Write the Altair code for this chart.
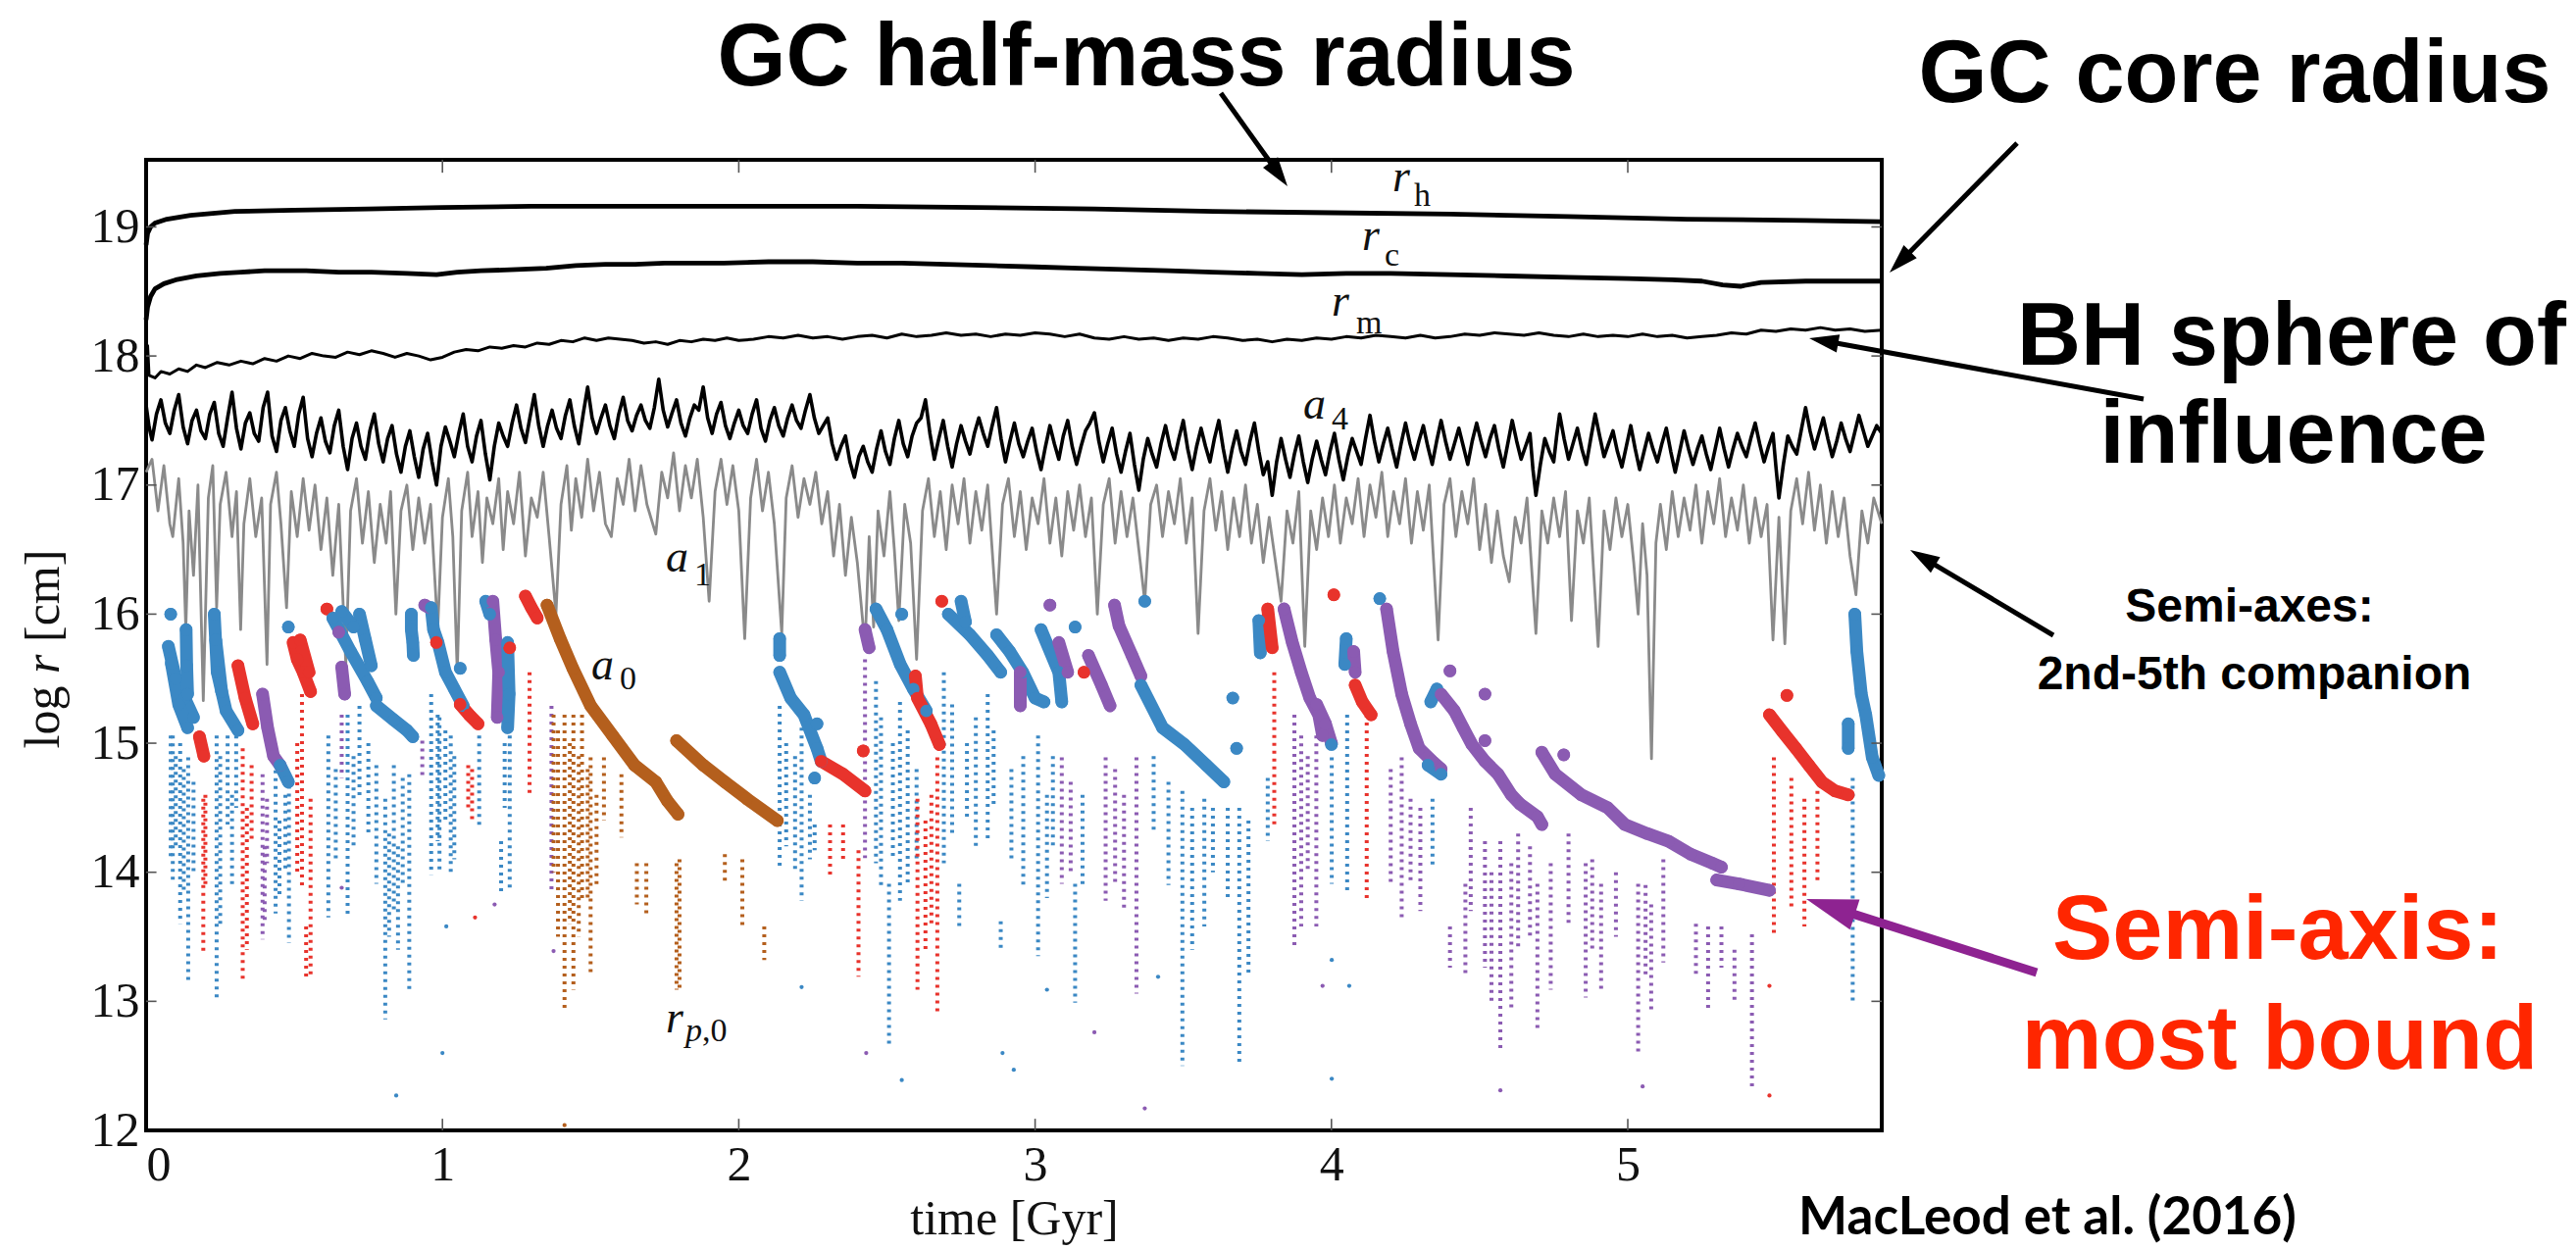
import math
import altair as alt
import pandas as pd

# ---------------- geometry of the page (pixels) ----------------
PLOT_LEFT, PLOT_TOP, PLOT_W, PLOT_H = 149, 163, 1770, 990
PAGE_W, PAGE_H = 2627, 1275
T_MAX = 5.857
V_MIN, V_MAX = 12.0, 19.52

# ---------------- data ----------------
X_TICKS = [0, 1, 2, 3, 4, 5]
Y_TICKS = [12, 13, 14, 15, 16, 17, 18, 19]

RH = [(0.000, 18.86), (0.005, 18.95), (0.015, 19.00), (0.03, 19.03), (0.07, 19.06), (0.15, 19.09),
      (0.30, 19.12), (0.50, 19.13), (0.75, 19.14), (1.00, 19.15), (1.30, 19.16), (1.60, 19.16),
      (2.00, 19.16), (2.40, 19.16), (2.80, 19.15), (3.20, 19.14), (3.60, 19.12), (4.00, 19.11),
      (4.40, 19.10), (4.80, 19.08), (5.20, 19.06), (5.60, 19.05), (5.857, 19.04)]

RC = [(0.000, 18.28), (0.005, 18.38), (0.015, 18.46), (0.03, 18.52), (0.06, 18.56), (0.10, 18.59),
      (0.17, 18.62), (0.25, 18.64), (0.32, 18.65), (0.40, 18.66), (0.54, 18.66), (0.65, 18.65),
      (0.76, 18.65), (0.88, 18.64), (0.98, 18.63), (1.05, 18.65), (1.13, 18.66), (1.25, 18.67),
      (1.35, 18.68), (1.45, 18.70), (1.55, 18.71), (1.65, 18.71), (1.75, 18.72), (1.85, 18.72),
      (1.95, 18.72), (2.10, 18.73), (2.25, 18.73), (2.40, 18.72), (2.55, 18.72), (2.70, 18.71),
      (2.85, 18.70), (3.00, 18.69), (3.15, 18.68), (3.30, 18.67), (3.45, 18.66), (3.60, 18.65),
      (3.75, 18.64), (3.90, 18.63), (4.05, 18.64), (4.20, 18.64), (4.40, 18.63), (4.60, 18.62),
      (4.80, 18.61), (5.00, 18.60), (5.15, 18.59), (5.25, 18.58), (5.32, 18.55), (5.38, 18.54),
      (5.45, 18.57), (5.60, 18.58), (5.75, 18.58), (5.857, 18.58)]

RM = [(0.000, 17.80), (0.005, 18.08), (0.01, 17.85), (0.03, 17.83), (0.05, 17.88), (0.08, 17.86),
      (0.11, 17.90), (0.14, 17.88), (0.17, 17.93), (0.20, 17.91), (0.24, 17.95), (0.28, 17.93),
      (0.32, 17.96), (0.36, 17.94), (0.40, 17.98), (0.44, 17.96), (0.48, 18.00), (0.52, 17.98),
      (0.56, 18.02), (0.60, 18.00), (0.64, 17.99), (0.68, 18.03), (0.72, 18.01), (0.76, 18.04),
      (0.80, 18.02), (0.84, 17.99), (0.88, 18.02), (0.92, 18.00), (0.96, 17.97), (1.00, 17.99),
      (1.04, 18.03), (1.08, 18.05), (1.12, 18.04), (1.16, 18.07), (1.20, 18.06), (1.24, 18.08),
      (1.28, 18.07), (1.32, 18.10), (1.36, 18.09), (1.40, 18.12), (1.44, 18.11), (1.48, 18.14),
      (1.52, 18.12), (1.56, 18.14), (1.60, 18.13), (1.64, 18.12), (1.68, 18.10), (1.72, 18.11),
      (1.76, 18.09), (1.80, 18.12), (1.84, 18.11), (1.88, 18.13), (1.92, 18.12), (1.96, 18.14),
      (2.00, 18.12), (2.05, 18.13), (2.10, 18.15), (2.15, 18.14), (2.20, 18.16), (2.25, 18.14),
      (2.30, 18.15), (2.35, 18.13), (2.40, 18.15), (2.45, 18.16), (2.50, 18.14), (2.55, 18.17),
      (2.60, 18.15), (2.65, 18.16), (2.70, 18.18), (2.75, 18.16), (2.80, 18.17), (2.85, 18.15),
      (2.90, 18.17), (2.95, 18.16), (3.00, 18.18), (3.05, 18.17), (3.10, 18.15), (3.15, 18.17),
      (3.20, 18.14), (3.25, 18.13), (3.30, 18.15), (3.35, 18.13), (3.40, 18.14), (3.45, 18.12),
      (3.50, 18.14), (3.55, 18.13), (3.60, 18.15), (3.65, 18.14), (3.70, 18.12), (3.75, 18.13),
      (3.80, 18.11), (3.85, 18.13), (3.90, 18.12), (3.95, 18.14), (4.00, 18.13), (4.05, 18.15),
      (4.10, 18.14), (4.15, 18.16), (4.20, 18.15), (4.25, 18.14), (4.30, 18.16), (4.35, 18.14),
      (4.40, 18.15), (4.45, 18.17), (4.50, 18.16), (4.55, 18.18), (4.60, 18.17), (4.65, 18.16),
      (4.70, 18.18), (4.75, 18.16), (4.80, 18.15), (4.85, 18.17), (4.90, 18.15), (4.95, 18.16),
      (5.00, 18.15), (5.05, 18.17), (5.10, 18.15), (5.15, 18.16), (5.20, 18.14), (5.25, 18.15),
      (5.30, 18.16), (5.35, 18.18), (5.40, 18.17), (5.45, 18.20), (5.50, 18.19), (5.55, 18.21),
      (5.60, 18.20), (5.65, 18.22), (5.70, 18.20), (5.75, 18.21), (5.80, 18.19), (5.857, 18.20)]

A4 = [(0.00, 17.62), (0.01, 17.45), (0.02, 17.35), (0.035, 17.55), (0.05, 17.66), (0.065, 17.48), (0.08, 17.40),
      (0.095, 17.58), (0.11, 17.70), (0.125, 17.45), (0.14, 17.32), (0.155, 17.50), (0.17, 17.58),
      (0.185, 17.42), (0.20, 17.36), (0.215, 17.55), (0.23, 17.64), (0.245, 17.40), (0.26, 17.30),
      (0.275, 17.52), (0.29, 17.72), (0.305, 17.44), (0.32, 17.28), (0.335, 17.48), (0.35, 17.56),
      (0.365, 17.40), (0.38, 17.34), (0.395, 17.60), (0.41, 17.72), (0.425, 17.38), (0.44, 17.26),
      (0.455, 17.50), (0.47, 17.60), (0.485, 17.42), (0.50, 17.30), (0.515, 17.55), (0.53, 17.68),
      (0.545, 17.36), (0.56, 17.22), (0.575, 17.40), (0.59, 17.52), (0.605, 17.34), (0.62, 17.25),
      (0.635, 17.46), (0.65, 17.58), (0.665, 17.30), (0.68, 17.12), (0.695, 17.36), (0.71, 17.48),
      (0.725, 17.30), (0.74, 17.20), (0.755, 17.42), (0.77, 17.55), (0.785, 17.32), (0.80, 17.18),
      (0.815, 17.36), (0.83, 17.46), (0.845, 17.24), (0.86, 17.10), (0.875, 17.30), (0.89, 17.42),
      (0.905, 17.22), (0.92, 17.06), (0.935, 17.28), (0.95, 17.40), (0.965, 17.18), (0.98, 17.00),
      (0.995, 17.30), (1.01, 17.45), (1.025, 17.34), (1.04, 17.22), (1.055, 17.40), (1.07, 17.55),
      (1.085, 17.30), (1.10, 17.18), (1.115, 17.38), (1.13, 17.50), (1.145, 17.24), (1.16, 17.04),
      (1.175, 17.30), (1.19, 17.48), (1.205, 17.38), (1.22, 17.30), (1.235, 17.48), (1.25, 17.62),
      (1.265, 17.44), (1.28, 17.33), (1.295, 17.52), (1.31, 17.70), (1.325, 17.46), (1.34, 17.30),
      (1.355, 17.46), (1.37, 17.58), (1.385, 17.44), (1.40, 17.36), (1.415, 17.54), (1.43, 17.66),
      (1.445, 17.46), (1.46, 17.32), (1.475, 17.55), (1.49, 17.76), (1.505, 17.52), (1.52, 17.40),
      (1.535, 17.52), (1.55, 17.62), (1.565, 17.46), (1.58, 17.36), (1.595, 17.55), (1.61, 17.68),
      (1.625, 17.50), (1.64, 17.42), (1.655, 17.54), (1.67, 17.62), (1.685, 17.50), (1.70, 17.44),
      (1.715, 17.60), (1.73, 17.82), (1.745, 17.58), (1.76, 17.45), (1.775, 17.56), (1.79, 17.66),
      (1.805, 17.48), (1.82, 17.38), (1.835, 17.52), (1.85, 17.62), (1.865, 17.58), (1.88, 17.76),
      (1.895, 17.52), (1.91, 17.40), (1.925, 17.55), (1.94, 17.64), (1.955, 17.46), (1.97, 17.36),
      (1.985, 17.48), (2.00, 17.58), (2.015, 17.46), (2.03, 17.40), (2.045, 17.55), (2.06, 17.66),
      (2.075, 17.44), (2.09, 17.34), (2.105, 17.50), (2.12, 17.60), (2.135, 17.46), (2.15, 17.38),
      (2.165, 17.52), (2.18, 17.62), (2.195, 17.50), (2.21, 17.44), (2.225, 17.58), (2.24, 17.70),
      (2.255, 17.52), (2.27, 17.40), (2.285, 17.46), (2.30, 17.52), (2.315, 17.32), (2.33, 17.20),
      (2.345, 17.30), (2.36, 17.38), (2.375, 17.18), (2.39, 17.06), (2.405, 17.22), (2.42, 17.30),
      (2.435, 17.18), (2.45, 17.10), (2.465, 17.28), (2.48, 17.42), (2.495, 17.26), (2.51, 17.16),
      (2.525, 17.36), (2.54, 17.50), (2.555, 17.32), (2.57, 17.22), (2.585, 17.38), (2.60, 17.48),
      (2.615, 17.52), (2.63, 17.66), (2.645, 17.40), (2.66, 17.20), (2.675, 17.36), (2.69, 17.50),
      (2.705, 17.30), (2.72, 17.14), (2.735, 17.32), (2.75, 17.46), (2.765, 17.34), (2.78, 17.24),
      (2.795, 17.40), (2.81, 17.52), (2.825, 17.40), (2.84, 17.30), (2.855, 17.46), (2.87, 17.60),
      (2.885, 17.36), (2.90, 17.18), (2.915, 17.34), (2.93, 17.48), (2.945, 17.32), (2.96, 17.22),
      (2.975, 17.34), (2.99, 17.44), (3.005, 17.26), (3.02, 17.12), (3.035, 17.30), (3.05, 17.46),
      (3.065, 17.32), (3.08, 17.20), (3.095, 17.38), (3.11, 17.50), (3.125, 17.30), (3.14, 17.16),
      (3.155, 17.30), (3.17, 17.42), (3.185, 17.48), (3.20, 17.56), (3.215, 17.34), (3.23, 17.18),
      (3.245, 17.32), (3.26, 17.44), (3.275, 17.24), (3.29, 17.10), (3.305, 17.26), (3.32, 17.40),
      (3.335, 17.16), (3.35, 16.96), (3.365, 17.20), (3.38, 17.36), (3.395, 17.24), (3.41, 17.14),
      (3.425, 17.32), (3.44, 17.46), (3.455, 17.30), (3.47, 17.20), (3.485, 17.36), (3.50, 17.50),
      (3.515, 17.28), (3.53, 17.12), (3.545, 17.30), (3.56, 17.44), (3.575, 17.30), (3.59, 17.18),
      (3.605, 17.36), (3.62, 17.50), (3.635, 17.28), (3.65, 17.10), (3.665, 17.28), (3.68, 17.42),
      (3.695, 17.26), (3.71, 17.16), (3.725, 17.34), (3.74, 17.48), (3.755, 17.26), (3.77, 17.08),
      (3.785, 17.18), (3.80, 16.92), (3.815, 17.18), (3.83, 17.36), (3.845, 17.20), (3.86, 17.06),
      (3.875, 17.24), (3.89, 17.38), (3.905, 17.18), (3.92, 17.02), (3.935, 17.20), (3.95, 17.34),
      (3.965, 17.20), (3.98, 17.08), (3.995, 17.26), (4.01, 17.40), (4.025, 17.20), (4.04, 17.04),
      (4.055, 17.22), (4.07, 17.36), (4.085, 17.26), (4.10, 17.16), (4.115, 17.36), (4.13, 17.54),
      (4.145, 17.34), (4.16, 17.18), (4.175, 17.32), (4.19, 17.44), (4.205, 17.28), (4.22, 17.14),
      (4.235, 17.32), (4.25, 17.48), (4.265, 17.32), (4.28, 17.20), (4.295, 17.34), (4.31, 17.46),
      (4.325, 17.30), (4.34, 17.16), (4.355, 17.34), (4.37, 17.50), (4.385, 17.34), (4.40, 17.20),
      (4.415, 17.32), (4.43, 17.44), (4.445, 17.30), (4.46, 17.16), (4.475, 17.34), (4.49, 17.48),
      (4.505, 17.34), (4.52, 17.22), (4.535, 17.36), (4.55, 17.46), (4.565, 17.28), (4.58, 17.14),
      (4.595, 17.32), (4.61, 17.50), (4.625, 17.34), (4.64, 17.20), (4.655, 17.30), (4.67, 17.40),
      (4.68, 17.12), (4.69, 16.92), (4.705, 17.16), (4.72, 17.36), (4.735, 17.26), (4.75, 17.18),
      (4.76, 17.38), (4.77, 17.55), (4.785, 17.36), (4.80, 17.20), (4.815, 17.32), (4.83, 17.44),
      (4.845, 17.28), (4.86, 17.16), (4.875, 17.36), (4.89, 17.55), (4.905, 17.38), (4.92, 17.22),
      (4.935, 17.32), (4.95, 17.42), (4.965, 17.26), (4.98, 17.14), (4.995, 17.30), (5.01, 17.46),
      (5.025, 17.28), (5.04, 17.12), (5.055, 17.26), (5.07, 17.40), (5.085, 17.28), (5.10, 17.18),
      (5.115, 17.32), (5.13, 17.44), (5.145, 17.26), (5.16, 17.10), (5.175, 17.26), (5.19, 17.42),
      (5.205, 17.28), (5.22, 17.16), (5.235, 17.28), (5.25, 17.38), (5.265, 17.24), (5.28, 17.12),
      (5.295, 17.28), (5.31, 17.44), (5.325, 17.28), (5.34, 17.14), (5.355, 17.28), (5.37, 17.40),
      (5.385, 17.30), (5.40, 17.22), (5.415, 17.36), (5.43, 17.48), (5.445, 17.32), (5.46, 17.18),
      (5.475, 17.30), (5.49, 17.40), (5.50, 17.14), (5.51, 16.90), (5.525, 17.16), (5.54, 17.38),
      (5.555, 17.30), (5.57, 17.24), (5.585, 17.42), (5.60, 17.60), (5.615, 17.42), (5.63, 17.28),
      (5.645, 17.40), (5.66, 17.52), (5.675, 17.36), (5.69, 17.22), (5.705, 17.34), (5.72, 17.48),
      (5.735, 17.36), (5.75, 17.26), (5.765, 17.40), (5.78, 17.54), (5.795, 17.42), (5.81, 17.30),
      (5.825, 17.38), (5.84, 17.46), (5.857, 17.40)]

A1 = [(0.00, 17.10), (0.02, 17.20), (0.04, 16.80), (0.06, 17.15), (0.08, 16.70), (0.09, 16.60),
      (0.11, 17.05), (0.125, 16.55), (0.134, 15.88), (0.145, 16.80), (0.16, 16.30), (0.175, 17.00),
      (0.193, 15.33), (0.21, 16.90), (0.225, 17.15), (0.238, 16.05), (0.25, 16.85), (0.27, 17.10),
      (0.29, 16.60), (0.305, 16.95), (0.319, 15.88), (0.33, 16.70), (0.35, 17.05), (0.37, 16.60),
      (0.39, 16.90), (0.408, 15.61), (0.42, 16.85), (0.44, 17.10), (0.455, 16.70), (0.474, 16.05),
      (0.49, 16.95), (0.51, 16.60), (0.53, 17.05), (0.55, 16.65), (0.57, 17.00), (0.59, 16.50),
      (0.61, 16.90), (0.63, 16.30), (0.65, 16.85), (0.674, 15.61), (0.69, 16.80), (0.71, 17.05),
      (0.73, 16.55), (0.75, 16.95), (0.77, 16.40), (0.79, 16.85), (0.81, 16.55), (0.825, 16.95),
      (0.843, 16.00), (0.86, 16.80), (0.88, 17.00), (0.90, 16.50), (0.92, 16.90), (0.94, 16.55),
      (0.96, 16.85), (0.984, 15.88), (1.00, 16.75), (1.02, 17.05), (1.035, 16.60), (1.05, 15.55),
      (1.065, 16.80), (1.085, 17.10), (1.10, 16.60), (1.12, 16.95), (1.135, 16.40), (1.15, 16.90),
      (1.17, 16.70), (1.19, 17.05), (1.205, 16.50), (1.22, 16.95), (1.24, 16.70), (1.26, 17.10),
      (1.28, 16.45), (1.30, 16.90), (1.32, 16.75), (1.34, 17.10), (1.36, 16.60), (1.383, 16.00),
      (1.40, 16.85), (1.42, 17.15), (1.435, 16.65), (1.45, 17.05), (1.47, 16.75), (1.49, 17.20),
      (1.51, 16.80), (1.53, 17.10), (1.55, 16.70), (1.57, 16.60), (1.59, 17.05), (1.61, 16.85),
      (1.63, 17.20), (1.65, 16.80), (1.67, 17.15), (1.69, 16.85), (1.72, 16.62), (1.74, 17.10),
      (1.76, 16.90), (1.78, 17.25), (1.80, 16.80), (1.82, 17.15), (1.84, 16.90), (1.86, 17.20),
      (1.88, 16.75), (1.90, 16.10), (1.92, 16.95), (1.94, 17.20), (1.96, 16.85), (1.98, 17.15),
      (2.00, 16.80), (2.02, 15.81), (2.04, 16.90), (2.06, 17.20), (2.08, 16.80), (2.10, 17.10),
      (2.12, 16.70), (2.145, 15.85), (2.16, 16.90), (2.18, 17.15), (2.20, 16.75), (2.22, 17.05),
      (2.24, 16.85), (2.26, 17.10), (2.28, 16.70), (2.30, 16.95), (2.32, 16.45), (2.34, 16.85),
      (2.36, 16.30), (2.38, 16.75), (2.40, 16.40), (2.426, 15.75), (2.44, 16.60), (2.455, 15.90),
      (2.47, 16.80), (2.49, 16.45), (2.51, 16.95), (2.525, 16.50), (2.54, 15.95), (2.56, 16.85),
      (2.58, 16.55), (2.60, 15.65), (2.62, 16.80), (2.64, 17.05), (2.66, 16.60), (2.68, 16.95),
      (2.70, 16.50), (2.72, 17.00), (2.74, 16.70), (2.76, 17.05), (2.78, 16.55), (2.80, 16.95),
      (2.82, 16.65), (2.84, 17.00), (2.87, 16.00), (2.89, 16.85), (2.91, 17.05), (2.93, 16.60),
      (2.95, 16.95), (2.97, 16.50), (2.99, 16.90), (3.01, 16.70), (3.03, 17.05), (3.05, 16.55),
      (3.07, 16.90), (3.09, 16.45), (3.11, 16.95), (3.13, 16.65), (3.15, 17.00), (3.17, 16.60),
      (3.19, 16.90), (3.21, 16.00), (3.23, 16.85), (3.25, 17.05), (3.27, 16.55), (3.29, 16.95),
      (3.31, 16.60), (3.33, 16.90), (3.35, 16.50), (3.37, 16.10), (3.39, 16.85), (3.41, 17.00),
      (3.43, 16.60), (3.45, 16.95), (3.47, 16.70), (3.49, 17.05), (3.51, 16.55), (3.53, 16.90),
      (3.55, 15.85), (3.57, 16.80), (3.59, 17.05), (3.61, 16.65), (3.63, 16.95), (3.65, 16.50),
      (3.67, 16.90), (3.69, 16.60), (3.71, 17.00), (3.73, 16.55), (3.75, 16.85), (3.77, 16.40),
      (3.79, 16.75), (3.83, 16.10), (3.85, 16.80), (3.87, 16.55), (3.89, 16.95), (3.91, 15.75),
      (3.93, 16.80), (3.95, 16.50), (3.97, 16.90), (3.99, 16.60), (4.01, 17.00), (4.03, 16.55),
      (4.05, 16.90), (4.07, 16.70), (4.09, 17.05), (4.11, 16.60), (4.13, 17.00), (4.15, 16.75),
      (4.17, 17.10), (4.19, 16.60), (4.21, 16.95), (4.23, 16.70), (4.25, 17.05), (4.27, 16.55),
      (4.29, 16.95), (4.31, 16.65), (4.33, 17.00), (4.36, 15.80), (4.38, 16.85), (4.40, 17.05),
      (4.42, 16.60), (4.44, 16.95), (4.46, 16.70), (4.48, 17.05), (4.50, 16.50), (4.52, 16.85),
      (4.54, 16.40), (4.56, 16.80), (4.58, 16.45), (4.60, 16.25), (4.62, 16.75), (4.64, 16.55),
      (4.66, 16.90), (4.69, 15.85), (4.71, 16.80), (4.73, 16.55), (4.75, 16.90), (4.77, 16.60),
      (4.79, 16.95), (4.81, 15.95), (4.83, 16.80), (4.85, 16.55), (4.87, 16.90), (4.90, 15.75),
      (4.92, 16.80), (4.94, 16.50), (4.96, 16.90), (4.98, 16.60), (5.00, 16.85), (5.02, 16.40),
      (5.035, 16.00), (5.05, 16.70), (5.065, 16.30), (5.08, 14.88), (5.095, 16.55), (5.11, 16.85),
      (5.13, 16.50), (5.15, 16.95), (5.17, 16.60), (5.19, 16.90), (5.21, 16.65), (5.23, 17.00),
      (5.25, 16.55), (5.27, 16.95), (5.29, 16.70), (5.31, 17.05), (5.33, 16.60), (5.35, 16.90),
      (5.37, 16.65), (5.39, 17.00), (5.41, 16.55), (5.43, 16.90), (5.45, 16.60), (5.47, 16.85),
      (5.49, 15.80), (5.51, 16.75), (5.53, 15.77), (5.55, 16.80), (5.57, 17.05), (5.59, 16.70),
      (5.61, 17.10), (5.63, 16.65), (5.65, 17.00), (5.67, 16.55), (5.69, 16.95), (5.71, 16.60),
      (5.73, 16.90), (5.75, 16.45), (5.77, 16.15), (5.79, 16.80), (5.81, 16.55), (5.83, 16.90),
      (5.857, 16.70)]

# semi-major axis of the most bound companion (big dots), b=blue r=red p=purple o=brown
A0_TRACKS = [
    ("b", [(0.075, 15.75), (0.10, 15.50), (0.13, 15.35), (0.16, 15.20)]),
    ("b", [(0.085, 15.62), (0.11, 15.30), (0.14, 15.12)]),
    ("b", [(0.135, 15.88), (0.137, 15.60), (0.14, 15.38)]),
    ("b", [(0.083, 16.00)]),
    ("r", [(0.18, 15.05), (0.195, 14.90)]),
    ("b", [(0.23, 16.00), (0.24, 15.55), (0.27, 15.25), (0.31, 15.10)]),
    ("b", [(0.235, 15.80), (0.255, 15.40)]),
    ("r", [(0.31, 15.60), (0.334, 15.35), (0.36, 15.15)]),
    ("p", [(0.393, 15.38), (0.41, 15.12), (0.43, 14.90), (0.452, 14.83)]),
    ("b", [(0.452, 14.83), (0.48, 14.70)]),
    ("b", [(0.48, 15.90)]),
    ("r", [(0.496, 15.78), (0.51, 15.65), (0.53, 15.55), (0.555, 15.40)]),
    ("r", [(0.52, 15.80), (0.55, 15.55)]),
    ("r", [(0.61, 16.04)]),
    ("b", [(0.63, 15.97), (0.69, 15.71), (0.747, 15.48), (0.777, 15.35)]),
    ("b", [(0.72, 16.00), (0.74, 15.80), (0.76, 15.60)]),
    ("b", [(0.66, 16.02), (0.70, 15.90)]),
    ("p", [(0.65, 15.86)]),
    ("p", [(0.66, 15.59), (0.67, 15.38)]),
    ("b", [(0.777, 15.29), (0.836, 15.18), (0.88, 15.10), (0.90, 15.05)]),
    ("b", [(0.895, 16.00), (0.895, 15.88), (0.90, 15.78), (0.902, 15.68)]),
    ("p", [(0.94, 16.07), (0.955, 16.05)]),
    ("b", [(0.962, 16.05), (0.97, 15.88), (0.985, 15.78), (1.01, 15.55), (1.04, 15.42), (1.07, 15.29)]),
    ("r", [(0.98, 15.78)]),
    ("r", [(1.06, 15.30), (1.09, 15.22), (1.12, 15.15)]),
    ("b", [(1.06, 15.58)]),
    ("b", [(1.146, 16.10), (1.16, 16.00)]),
    ("p", [(1.17, 16.10), (1.18, 15.80), (1.19, 15.55), (1.185, 15.20)]),
    ("b", [(1.22, 15.78), (1.225, 15.38), (1.22, 15.12)]),
    ("r", [(1.227, 15.74)]),
    ("r", [(1.28, 16.14), (1.30, 16.05), (1.32, 15.97)]),
    ("o", [(1.353, 16.07), (1.397, 15.81), (1.44, 15.58), (1.50, 15.29), (1.574, 15.06),
           (1.648, 14.83), (1.72, 14.70), (1.76, 14.55), (1.795, 14.45)]),
    ("o", [(1.79, 15.02), (1.88, 14.83), (1.953, 14.70), (2.027, 14.57), (2.13, 14.40)]),
    ("b", [(2.138, 15.81), (2.138, 15.68)]),
    ("b", [(2.138, 15.55), (2.175, 15.35), (2.22, 15.22), (2.264, 14.96), (2.278, 14.86)]),
    ("r", [(2.278, 14.86), (2.352, 14.76), (2.426, 14.63)]),
    ("b", [(2.264, 15.15)]),
    ("b", [(2.256, 14.73)]),
    ("r", [(2.42, 14.94)]),
    ("p", [(2.426, 15.88), (2.44, 15.74)]),
    ("b", [(2.463, 16.04), (2.50, 15.88), (2.545, 15.61), (2.589, 15.42), (2.633, 15.25)]),
    ("b", [(2.55, 16.00)]),
    ("r", [(2.596, 15.52), (2.603, 15.35), (2.648, 15.15), (2.677, 14.99)]),
    ("r", [(2.685, 16.10)]),
    ("b", [(2.707, 16.00), (2.78, 15.84), (2.84, 15.68), (2.884, 15.55)]),
    ("b", [(2.75, 16.10), (2.765, 15.94)]),
    ("b", [(2.87, 15.84), (2.914, 15.71), (2.958, 15.55), (3.00, 15.35), (3.03, 15.32)]),
    ("p", [(2.95, 15.55), (2.95, 15.29)]),
    ("b", [(3.02, 15.88), (3.08, 15.55), (3.09, 15.32)]),
    ("p", [(3.05, 16.07)]),
    ("p", [(3.08, 15.78), (3.11, 15.55)]),
    ("b", [(3.135, 15.90)]),
    ("r", [(3.165, 15.55)]),
    ("p", [(3.18, 15.68), (3.224, 15.45), (3.253, 15.29)]),
    ("p", [(3.268, 16.07), (3.283, 15.91), (3.327, 15.68), (3.357, 15.52)]),
    ("b", [(3.357, 15.45), (3.43, 15.12), (3.504, 14.99), (3.578, 14.83), (3.637, 14.70)]),
    ("b", [(3.37, 16.10)]),
    ("b", [(3.667, 15.35)]),
    ("b", [(3.68, 14.96)]),
    ("b", [(3.755, 15.95), (3.76, 15.70)]),
    ("r", [(3.785, 16.04), (3.80, 15.74)]),
    ("p", [(3.84, 16.04), (3.868, 15.78), (3.898, 15.55), (3.927, 15.35), (3.957, 15.22), (3.97, 15.06)]),
    ("p", [(3.95, 15.30), (3.98, 15.15), (4.00, 15.00)]),
    ("b", [(4.00, 14.99)]),
    ("b", [(4.05, 15.81), (4.045, 15.61)]),
    ("p", [(4.075, 15.71), (4.08, 15.55)]),
    ("r", [(4.08, 15.45), (4.104, 15.32), (4.134, 15.22)]),
    ("r", [(4.008, 16.15)]),
    ("b", [(4.163, 16.12)]),
    ("p", [(4.186, 16.04), (4.208, 15.71), (4.237, 15.38), (4.267, 15.15), (4.296, 14.96),
           (4.34, 14.86), (4.37, 14.80)]),
    ("b", [(4.326, 14.83), (4.37, 14.76)]),
    ("b", [(4.356, 15.42), (4.335, 15.32)]),
    ("p", [(4.37, 15.38), (4.415, 15.25), (4.444, 15.12), (4.474, 14.99), (4.518, 14.86),
           (4.562, 14.76), (4.607, 14.60), (4.636, 14.53), (4.695, 14.43), (4.71, 14.37)]),
    ("p", [(4.40, 15.56)]),
    ("p", [(4.518, 15.38)]),
    ("p", [(4.518, 15.02)]),
    ("p", [(4.71, 14.93), (4.755, 14.76), (4.843, 14.60), (4.932, 14.50), (4.99, 14.37),
           (5.065, 14.30), (5.138, 14.24), (5.212, 14.14), (5.286, 14.07), (5.316, 14.04)]),
    ("p", [(4.784, 14.91)]),
    ("p", [(5.30, 13.94), (5.375, 13.91), (5.478, 13.86)]),
    ("r", [(5.478, 15.22), (5.522, 15.09), (5.567, 14.96), (5.611, 14.83), (5.655, 14.70),
           (5.70, 14.63), (5.744, 14.60)]),
    ("r", [(5.537, 15.37)]),
    ("b", [(5.766, 16.00), (5.773, 15.71), (5.788, 15.38), (5.803, 15.22), (5.825, 14.89), (5.847, 14.75)]),
    ("b", [(5.744, 15.15), (5.744, 14.96)]),
]

# pericentre of the most bound companion (small dots): vertical streaks (colour, t, top, bottom)
RP_STREAKS = [
    ("b", 0.083, 15.06, 14.11), ("b", 0.09, 15.06, 13.91), ("b", 0.10, 14.90, 14.20),
    ("b", 0.115, 15.00, 13.60), ("b", 0.127, 14.80, 13.85), ("b", 0.142, 14.89, 13.16),
    ("b", 0.16, 14.70, 14.00), ("r", 0.193, 14.57, 13.39), ("r", 0.20, 14.60, 13.90),
    ("b", 0.238, 15.06, 13.03), ("b", 0.25, 14.90, 13.60), ("b", 0.275, 15.06, 14.37),
    ("b", 0.29, 14.60, 13.90), ("b", 0.304, 15.06, 14.50), ("r", 0.326, 14.96, 13.16),
    ("r", 0.34, 14.50, 13.40), ("r", 0.356, 14.83, 14.24), ("p", 0.393, 14.76, 13.48),
    ("p", 0.40, 14.20, 13.60), ("p", 0.408, 14.57, 14.07), ("b", 0.437, 14.79, 13.68),
    ("b", 0.45, 14.40, 13.80), ("b", 0.47, 14.60, 14.00), ("b", 0.482, 14.73, 13.45),
    ("r", 0.51, 15.00, 14.00), ("r", 0.526, 15.38, 13.88), ("r", 0.54, 13.58, 13.19),
    ("r", 0.555, 14.57, 13.19), ("b", 0.615, 15.06, 13.65), ("b", 0.64, 14.80, 14.10),
    ("p", 0.66, 15.22, 14.73), ("b", 0.68, 15.22, 13.65), ("b", 0.70, 14.90, 14.20),
    ("b", 0.72, 15.29, 14.57), ("b", 0.75, 15.00, 14.30), ("b", 0.777, 14.83, 13.91),
    ("b", 0.807, 14.57, 12.86), ("b", 0.82, 14.30, 13.50), ("b", 0.836, 14.83, 13.71),
    ("b", 0.85, 14.20, 13.40), ("b", 0.866, 14.73, 13.91), ("b", 0.888, 14.76, 13.09),
    ("p", 0.932, 15.02, 14.73), ("b", 0.962, 15.38, 13.98), ("b", 0.984, 15.22, 14.24),
    ("b", 0.99, 15.20, 14.00), ("b", 1.01, 15.10, 14.40), ("b", 1.028, 15.06, 13.98),
    ("b", 1.04, 14.90, 14.10), ("r", 1.087, 14.83, 14.50), ("r", 1.10, 14.80, 14.40),
    ("b", 1.124, 15.06, 14.34), ("b", 1.198, 14.24, 13.85), ("b", 1.21, 15.00, 14.50),
    ("b", 1.227, 15.06, 13.88), ("r", 1.294, 15.55, 14.60), ("p", 1.368, 15.29, 13.85),
    ("o", 1.375, 15.22, 14.00), ("o", 1.39, 15.10, 13.50), ("o", 1.412, 15.22, 12.93),
    ("o", 1.43, 15.00, 13.60), ("o", 1.442, 15.22, 13.09), ("o", 1.46, 14.90, 13.50),
    ("o", 1.471, 15.22, 13.78), ("o", 1.49, 14.80, 13.80), ("o", 1.50, 14.89, 13.22),
    ("o", 1.52, 14.60, 13.90), ("o", 1.545, 14.89, 14.40), ("o", 1.604, 14.76, 14.27),
    ("o", 1.656, 14.07, 13.75), ("o", 1.688, 14.07, 13.65), ("o", 1.79, 14.07, 13.09),
    ("o", 1.80, 14.10, 13.09), ("o", 1.953, 14.14, 13.91), ("o", 2.012, 14.10, 13.58),
    ("o", 2.086, 13.58, 13.32),
    ("b", 2.138, 15.29, 14.04), ("b", 2.16, 15.00, 14.20), ("b", 2.19, 14.90, 14.00),
    ("b", 2.212, 15.12, 13.78), ("b", 2.24, 14.60, 14.10), ("b", 2.256, 14.37, 14.17),
    ("r", 2.308, 14.37, 13.98), ("r", 2.352, 14.37, 14.07), ("r", 2.404, 14.17, 13.19),
    ("p", 2.426, 15.65, 14.11), ("b", 2.463, 15.48, 14.07), ("b", 2.48, 15.20, 13.90),
    ("b", 2.507, 13.91, 12.67), ("b", 2.52, 15.00, 14.10), ("b", 2.544, 15.32, 13.78),
    ("b", 2.57, 15.10, 13.90), ("b", 2.60, 14.80, 14.10), ("r", 2.603, 14.57, 13.09),
    ("r", 2.63, 14.40, 13.40), ("r", 2.65, 14.60, 13.60), ("r", 2.67, 14.89, 12.90),
    ("b", 2.692, 15.55, 14.07), ("b", 2.72, 15.30, 14.30), ("b", 2.744, 13.91, 13.58),
    ("b", 2.77, 15.00, 14.40), ("b", 2.80, 15.20, 14.20), ("b", 2.84, 15.38, 14.24),
    ("b", 2.86, 15.10, 14.50), ("b", 2.884, 13.62, 13.39), ("b", 2.92, 14.80, 14.10),
    ("b", 2.96, 14.90, 13.90), ("b", 3.01, 15.06, 13.35), ("b", 3.04, 14.60, 13.80),
    ("b", 3.06, 14.90, 14.20), ("p", 3.09, 14.89, 13.91), ("p", 3.12, 14.70, 14.00),
    ("b", 3.135, 13.91, 12.99), ("b", 3.16, 14.60, 13.90), ("p", 3.238, 14.89, 13.78),
    ("p", 3.27, 14.80, 13.90), ("p", 3.30, 14.60, 13.70), ("p", 3.342, 14.89, 13.06),
    ("b", 3.40, 14.90, 14.30), ("b", 3.45, 14.70, 13.90), ("b", 3.497, 14.63, 12.50),
    ("b", 3.53, 14.50, 13.40), ("b", 3.571, 14.57, 13.58), ("b", 3.60, 14.50, 14.00),
    ("b", 3.65, 14.50, 13.80), ("b", 3.689, 14.50, 12.53), ("b", 3.72, 14.40, 13.20),
    ("b", 3.785, 14.73, 14.24), ("r", 3.807, 15.55, 14.34), ("p", 3.875, 15.22, 13.42),
    ("p", 3.898, 15.06, 13.58), ("p", 3.92, 14.90, 14.00), ("p", 3.949, 15.06, 13.58),
    ("b", 4.001, 14.89, 13.91), ("b", 4.053, 15.22, 13.84), ("r", 4.119, 15.22, 13.78),
    ("p", 4.20, 14.80, 13.90), ("p", 4.237, 14.89, 13.65), ("p", 4.267, 14.57, 13.91),
    ("p", 4.30, 14.50, 13.70), ("b", 4.341, 14.57, 14.04), ("p", 4.40, 13.58, 13.26),
    ("p", 4.452, 13.91, 13.22), ("p", 4.47, 14.50, 13.70), ("p", 4.518, 14.24, 13.26),
    ("p", 4.54, 14.00, 13.00), ("p", 4.57, 14.24, 12.60), ("p", 4.607, 14.07, 12.92),
    ("p", 4.63, 14.30, 13.40), ("p", 4.67, 14.20, 13.50), ("p", 4.695, 13.91, 12.76),
    ("p", 4.74, 14.07, 13.09), ("p", 4.80, 14.30, 13.60), ("p", 4.858, 14.07, 13.03),
    ("p", 4.88, 14.10, 13.40), ("p", 4.91, 13.91, 13.09), ("p", 4.96, 14.00, 13.50),
    ("p", 5.035, 13.91, 12.60), ("p", 5.06, 13.90, 13.20), ("p", 5.079, 13.75, 12.92),
    ("p", 5.12, 14.10, 13.30), ("p", 5.23, 13.60, 13.20), ("p", 5.271, 13.58, 12.92),
    ("p", 5.316, 13.58, 13.26), ("p", 5.36, 13.40, 13.00), ("p", 5.419, 13.52, 12.34),
    ("r", 5.493, 14.89, 13.52), ("r", 5.552, 14.73, 13.72), ("r", 5.596, 14.57, 13.58),
    ("r", 5.64, 14.63, 13.91), ("b", 5.759, 14.73, 12.99),
]

RP_SINGLES = [
    ("b", 0.844, 12.27), ("b", 1.00, 12.60), ("b", 1.013, 13.58), ("r", 1.11, 13.65),
    ("p", 1.176, 13.75), ("p", 0.66, 13.88), ("p", 1.375, 13.39), ("o", 1.412, 12.04),
    ("b", 2.212, 13.11), ("p", 2.43, 12.60), ("b", 2.55, 12.39), ("b", 2.89, 12.60),
    ("b", 2.928, 12.47), ("b", 3.04, 13.09), ("p", 3.20, 12.76), ("p", 3.37, 12.17),
    ("b", 3.415, 13.19), ("b", 4.001, 13.32), ("b", 4.001, 12.40), ("p", 3.97, 13.12),
    ("b", 4.06, 13.12), ("p", 4.57, 12.31), ("p", 5.05, 12.34), ("r", 5.478, 13.12),
    ("r", 5.478, 12.27),
]

COLOR_KEYS = ["b", "r", "p", "o"]
COLOR_VALUES = ["#3b88c4", "#e8332c", "#8b5bb2", "#b45f1d"]

# ---------------- helpers ----------------
def px_t(x):
    return (x - PLOT_LEFT) / PLOT_W * T_MAX


def px_v(y):
    return V_MAX - (y - PLOT_TOP) / PLOT_H * (V_MAX - V_MIN)


xs = alt.Scale(domain=[0, T_MAX], nice=False, zero=False)
ys = alt.Scale(domain=[V_MIN, V_MAX], nice=False, zero=False)
SERIF = "Liberation Serif"

X = alt.X("t:Q", scale=xs, axis=alt.Axis(
    values=X_TICKS, format="d", title="time [Gyr]", ticks=False, domain=False, grid=False,
    labelFont=SERIF, labelFontSize=50, labelColor="#111", labelPadding=10,
    titleFont=SERIF, titleFontSize=50, titleFontWeight="normal", titleColor="#111",
    titleX=PLOT_W / 2, titleY=105, titleBaseline="alphabetic", titleAlign="center"))
Y = alt.Y("v:Q", scale=ys, axis=alt.Axis(
    values=Y_TICKS, format="d", title=None, ticks=False, domain=False, grid=False,
    labelFont=SERIF, labelFontSize=50, labelColor="#111", labelPadding=7))
COLOR = alt.Color("c:N", scale=alt.Scale(domain=COLOR_KEYS, range=COLOR_VALUES), legend=None)


def df_of(pairs):
    return pd.DataFrame({"t": [p[0] for p in pairs], "v": [p[1] for p in pairs],
                         "i": list(range(len(pairs)))})


def series(pairs, color, width):
    return alt.Chart(df_of(pairs)).mark_line(color=color, strokeWidth=width, strokeJoin="round").encode(
        x=X, y=Y, order="i:Q")


# ---------------- layers ----------------
layers = []
layers.append(series(A1, "#8a8a8a", 2.8))

streak_df = pd.DataFrame(RP_STREAKS, columns=["c", "t", "v", "v2"])
layers.append(alt.Chart(streak_df).mark_rule(strokeWidth=4, strokeDash=[3, 5]).encode(
    x=X, y=Y, y2="v2:Q", color=COLOR))
single_df = pd.DataFrame(RP_SINGLES, columns=["c", "t", "v"])
layers.append(alt.Chart(single_df).mark_circle(size=18, opacity=1).encode(x=X, y=Y, color=COLOR))

rows = []
for k, (c, pts) in enumerate(A0_TRACKS):
    for i, (t, v) in enumerate(pts):
        rows.append({"seg": k, "i": i, "c": c, "t": t, "v": v})
a0_df = pd.DataFrame(rows)
layers.append(alt.Chart(a0_df).mark_line(strokeWidth=13, strokeCap="round", strokeJoin="round").encode(
    x=X, y=Y, color=COLOR, detail="seg:N", order="i:Q"))
layers.append(alt.Chart(a0_df).mark_circle(size=160, opacity=1).encode(x=X, y=Y, color=COLOR))

layers.append(series(A4, "#000000", 3.6))
layers.append(series(RM, "#000000", 3.0))
layers.append(series(RC, "#000000", 4.8))
layers.append(series(RH, "#000000", 4.8))

# inner tick marks on all four sides
tick_rows = []
for t in X_TICKS[1:]:
    tick_rows.append({"t": t, "v": V_MIN, "t2": t, "v2": V_MIN + 0.09})
    tick_rows.append({"t": t, "v": V_MAX, "t2": t, "v2": V_MAX - 0.10})
for v in Y_TICKS[1:]:
    tick_rows.append({"t": 0, "v": v, "t2": 0.035, "v2": v})
    tick_rows.append({"t": T_MAX, "v": v, "t2": T_MAX - 0.035, "v2": v})
layers.append(alt.Chart(pd.DataFrame(tick_rows)).mark_rule(color="#555", strokeWidth=1.6).encode(
    x=X, y=Y, x2="t2:Q", y2="v2:Q"))

# ---------------- in-plot curve labels ----------------
LABELS = [  # text, x px, baseline px, size, italic
    ("r", 1420, 195, 46, True), ("h", 1442, 210, 34, False),
    ("r", 1389, 255, 46, True), ("c", 1412, 271, 34, False),
    ("r", 1358, 322, 46, True), ("m", 1383, 340, 34, False),
    ("a", 1329, 427, 46, True), ("4", 1358, 438, 34, False),
    ("a", 679, 583, 46, True), ("1", 708, 597, 34, False),
    ("a", 603, 693, 46, True), ("0", 632, 703, 34, False),
    ("r", 679, 1053, 46, True), ("p", 699, 1062, 34, True), (",0", 716, 1062, 34, False),
]
for italic in (True, False):
    sub = [l for l in LABELS if l[4] == italic]
    d = pd.DataFrame({"text": [l[0] for l in sub], "t": [px_t(l[1]) for l in sub],
                      "v": [px_v(l[2]) for l in sub], "fs": [l[3] for l in sub]})
    layers.append(alt.Chart(d).mark_text(
        font=SERIF, fontStyle="italic" if italic else "normal", align="left",
        baseline="alphabetic", color="#111").encode(
        x=X, y=Y, text="text:N", size=alt.Size("fs:Q", scale=None)))

# y axis title "log r [cm]" (r italic), rotated
YT = [("log", 763.5, False), ("r", 687.1, True), ("[cm]", 655.0, False)]
for txt, ypx, it in YT:
    d = pd.DataFrame({"text": [txt], "t": [px_t(45)], "v": [px_v(ypx)]})
    layers.append(alt.Chart(d).mark_text(
        font=SERIF, fontSize=50, fontStyle="italic" if it else "normal", angle=270,
        align="left", baseline="middle", color="#111").encode(x=X, y=Y, text="text:N"))

# ---------------- annotations outside the frame ----------------
ANN = [  # text, centre x px, baseline px, size, colour
    ("GC half-mass radius", 1169, 87, 90, "#000000"),
    ("GC core radius", 2279, 104, 90, "#000000"),
    ("BH sphere of", 2337, 372, 90, "#000000"),
    ("influence", 2339, 472, 90, "#000000"),
    ("Semi-axes:", 2294, 634, 48, "#000000"),
    ("2nd-5th companion", 2299, 703, 48, "#000000"),
    ("Semi-axis:", 2323, 978, 92, "#ff2600"),
    ("most bound", 2325, 1090, 92, "#ff2600"),
]
ann_df = pd.DataFrame({"text": [a[0] for a in ANN], "t": [px_t(a[1]) for a in ANN],
                       "v": [px_v(a[2]) for a in ANN], "fs": [a[3] for a in ANN],
                       "col": [a[4] for a in ANN]})
layers.append(alt.Chart(ann_df).mark_text(
    font="Liberation Sans", fontWeight="bold", align="center", baseline="alphabetic").encode(
    x=X, y=Y, text="text:N", size=alt.Size("fs:Q", scale=None), color=alt.Color("col:N", scale=None)))

cite_df = pd.DataFrame({"text": ["MacLeod et al. (2016)"], "t": [px_t(2088)], "v": [px_v(1259)]})
layers.append(alt.Chart(cite_df).mark_text(
    font="Lato", fontWeight="bold", fontSize=53, align="center", baseline="alphabetic",
    color="#000").encode(x=X, y=Y, text="text:N"))

ARROWS = [  # tail x, tail y, tip x, tip y, shaft width, head length, colour
    (1245, 95, 1313, 190, 5, 30, "#000000"),
    (2057, 146, 1927, 278, 5, 30, "#000000"),
    (2186, 407, 1845, 345, 5, 30, "#000000"),
    (2094, 648, 1948, 561, 5, 30, "#000000"),
    (2077, 992, 1842, 917, 9, 52, "#8e2391"),
]
shaft_rows, head_rows = [], []
for tx, ty, hx, hy, sw, hl, col in ARROWS:
    dx, dy = hx - tx, hy - ty
    n = math.hypot(dx, dy)
    ux, uy = dx / n, dy / n
    ex, ey = hx - ux * hl * 0.8, hy - uy * hl * 0.8
    cx, cy = hx - ux * hl / 2, hy - uy * hl / 2
    ang = math.degrees(math.atan2(ux, -uy)) % 360
    shaft_rows.append({"t": px_t(tx), "v": px_v(ty), "t2": px_t(ex), "v2": px_v(ey), "sw": sw, "col": col})
    head_rows.append({"t": px_t(cx), "v": px_v(cy), "ang": ang, "sz": hl * hl, "col": col})
layers.append(alt.Chart(pd.DataFrame(shaft_rows)).mark_rule().encode(
    x=X, y=Y, x2="t2:Q", y2="v2:Q", strokeWidth=alt.StrokeWidth("sw:Q", scale=None),
    color=alt.Color("col:N", scale=None)))
layers.append(alt.Chart(pd.DataFrame(head_rows)).mark_point(
    shape="M0,-1L0.62,1L-0.62,1Z", filled=True, opacity=1, strokeWidth=0).encode(
    x=X, y=Y, angle=alt.Angle("ang:Q", scale=None), size=alt.Size("sz:Q", scale=None),
    color=alt.Color("col:N", scale=None)))

chart = alt.layer(*layers).properties(
    width=PLOT_W, height=PLOT_H,
    padding={"left": PLOT_LEFT, "top": PLOT_TOP, "right": PAGE_W - PLOT_LEFT - PLOT_W,
             "bottom": PAGE_H - PLOT_TOP - PLOT_H},
    autosize=alt.AutoSizeParams(type="none"),
    background="white",
).configure_view(stroke="#000", strokeWidth=4)

chart.save("out.html", embed_options={"renderer": "svg", "actions": False})
